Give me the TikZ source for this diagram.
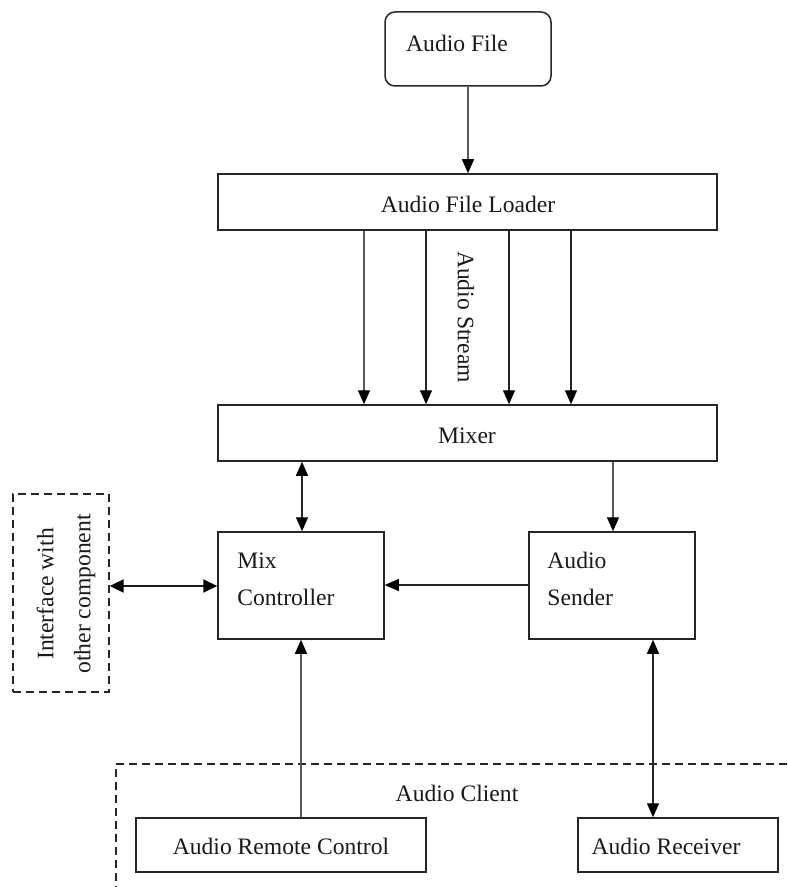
\documentclass[tikz,border=0pt]{standalone}
\usepackage{fontspec}
\setmainfont{Liberation Serif}
\usetikzlibrary{arrows.meta}
\begin{document}
\begin{tikzpicture}[x=0.5pt,y=-0.5pt,
  box/.style={draw=black!85,line width=0.75pt,rectangle,inner sep=0pt},
  dbox/.style={draw=black!85,line width=0.7pt,dash pattern=on 4pt off 2.5pt},
  lbl/.style={font=\fontsize{11.8}{18.5}\selectfont,inner sep=0pt,text=black!90},
  arr/.style={draw=black!85,line width=0.65pt,-{Triangle[length=7pt,width=6pt,color=black]}},
  garr/.style={draw=black!65,line width=0.65pt,-{Triangle[length=7pt,width=6pt,color=black]}},
  darr/.style={draw=black!85,line width=0.65pt,{Triangle[length=7pt,width=6pt,color=black]}-{Triangle[length=7pt,width=6pt,color=black]}},
  tarr/.style={draw=black!90,line width=1pt,{Triangle[length=7pt,width=6.5pt,color=black]}-{Triangle[length=7pt,width=6.5pt,color=black]}}
]
\useasboundingbox (0,0) rectangle (787,887);

% boxes
\node[box,rounded corners=5pt,minimum width=83pt,minimum height=37pt] (file) at (468,49) {};
\node[lbl] (filet) at (457,43) {Audio File};

\node[box,minimum width=249.5pt,minimum height=28pt] (loader) at (467.5,202) {};
\node[lbl] (loadert) at (468,204) {Audio File Loader};

\node[box,minimum width=249.5pt,minimum height=28pt] (mixer) at (467.5,433) {};
\node[lbl] (mixert) at (467,436) {Mixer};

\node[box,minimum width=83pt,minimum height=53.5pt] (mixc) at (301,585.5) {};
\node[lbl,anchor=base west] (mixt1) at (237,568) {Mix};
\node[lbl,anchor=base west] (mixt2) at (237,605) {Controller};

\node[box,minimum width=83pt,minimum height=53.5pt] (sender) at (612,585.5) {};
\node[lbl,anchor=base west] (sendt1) at (547,568) {Audio};
\node[lbl,anchor=base west] (sendt2) at (547,605) {Sender};

\node[box,minimum width=145pt,minimum height=27pt] (remote) at (281,845) {};
\node[lbl] (remotet) at (281,846) {Audio Remote Control};

\node[box,minimum width=100pt,minimum height=27pt] (recv) at (678,845) {};
\node[lbl] (recvt) at (666,846) {Audio Receiver};

\node[dbox,minimum width=48pt,minimum height=99pt] (iface) at (61,593) {};
\node[lbl,rotate=90,align=center] (ifacet) at (66,594) {Interface with\\other component};

\node[lbl,rotate=-90] (stream) at (466,317) {Audio Stream};

% audio client region
\coordinate (acr) at (787,764);
\coordinate (acc) at (116,764);
\coordinate (acb) at (116,887);
\draw[dbox] (acr) -- (acc) -- (acb);
\node[lbl] (client) at (457,793) {Audio Client};

% connectors
\draw[garr] (file.south -| 468,0) -- (loader.north -| 468,0);
\draw[garr] (loader.south -| 364,0) -- (mixer.north -| 364,0);
\draw[arr] (loader.south -| 426,0) -- (mixer.north -| 426,0);
\draw[arr] (loader.south -| 509,0) -- (mixer.north -| 509,0);
\draw[arr] (loader.south -| 571,0) -- (mixer.north -| 571,0);

\draw[darr] (mixer.south -| 302,0) -- (mixc.north -| 302,0);
\draw[garr] (mixer.south -| 613,0) -- (sender.north -| 613,0);
\draw[arr] (sender.west |- 0,585) -- (mixc.east |- 0,585);
\draw[tarr] (iface.east |- 0,586) -- (mixc.west |- 0,586);
\draw[garr] (remote.north -| 301,0) -- (mixc.south -| 301,0);
\draw[darr] (sender.south -| 653,0) -- (recv.north -| 653,0);
\end{tikzpicture}
\end{document}
